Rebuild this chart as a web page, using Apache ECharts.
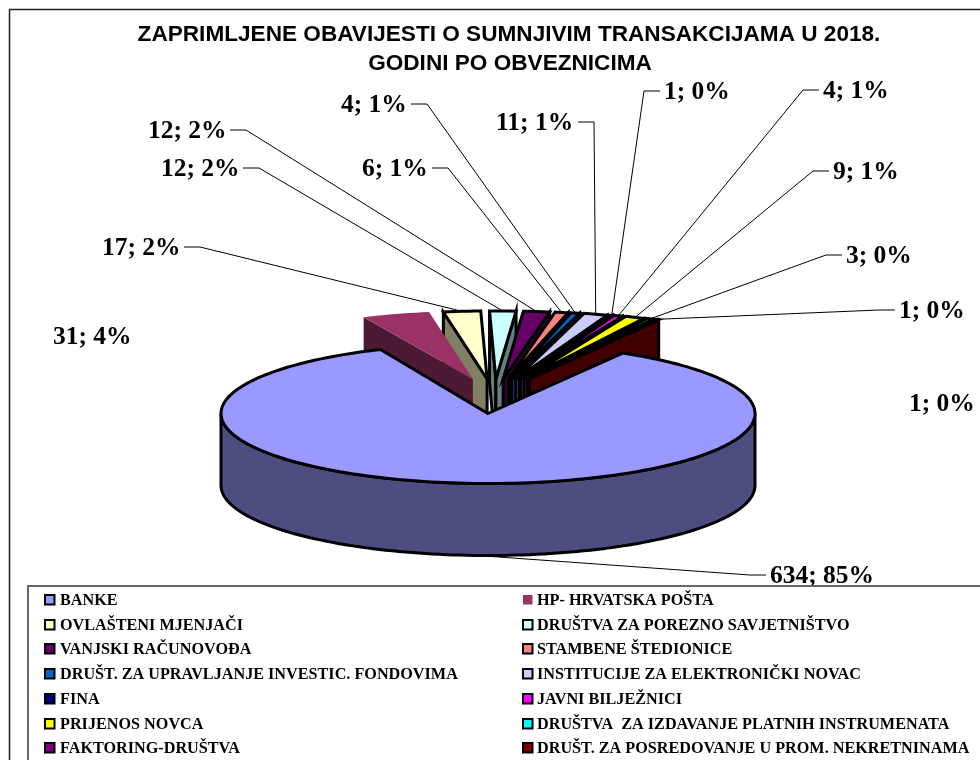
<!DOCTYPE html>
<html><head><meta charset="utf-8">
<script src="https://cdn.jsdelivr.net/npm/echarts@6/dist/echarts.min.js"></script>
<style>html,body{margin:0;padding:0;background:#fff}#c{width:980px;height:760px}</style>
</head><body><div id="c"></div>
<script>
const categories = ["BANKE","HP- HRVATSKA POŠTA","OVLAŠTENI MJENJAČI","DRUŠTVA ZA POREZNO SAVJETNIŠTVO","VANJSKI RAČUNOVOĐA","STAMBENE ŠTEDIONICE","DRUŠT. ZA UPRAVLJANJE INVESTIC. FONDOVIMA","INSTITUCIJE ZA ELEKTRONIČKI NOVAC","FINA","JAVNI BILJEŽNICI","PRIJENOS NOVCA","DRUŠTVA  ZA IZDAVANJE PLATNIH INSTRUMENATA","FAKTORING-DRUŠTVA","DRUŠT. ZA POSREDOVANJE U PROM. NEKRETNINAMA"];
const values = [634,31,17,12,12,6,4,11,1,4,9,3,1,1];
const topColors = ["#9999ff","#993366","#ffffcc","#ccffff","#660066","#ff8080","#0066cc","#ccccff","#000080","#ff00ff","#ffff00","#00ffff","#800080","#800000"];
const wallColors = ["#4d4d80","#4d1a33","#808066","#668080","#330033","#804040","#003366","#666680","#000040","#800080","#808000","#008080","#400040","#400000"];
// label box: left x, centre y, and leader side (-1 leader leaves the left, 1 the right, 0 none)
const labelLayout = [[770,575,-1],[53,336,0],[102,247,1],[161,168,1],[148,130,1],[362,168,1],[341,104,1],[496,122,1],[664,91,-1],[823,90,-1],[833,171,-1],[846,255,-1],[899,310,-1],[909,403,0]];
const labelWidths = {two:77, one:65, big:103};
const START = 29.5, MAIN_TURN = 0.8, RX = 267, RY = 70, RX_OUT = 263, RY_OUT = 68, DEPTH = 72, MAIN = [488,413.5];
const total = values.reduce((a,b)=>a+b,0);
const spans = []; { let a = START; values.forEach(v=>{ const s = v/total*360; spans.push([a,a+s]); a += s; }); }
const rad = d=>d*Math.PI/180;
const pt = (c,a,dy,ry,rx)=>[c[0]+(rx||RX)*Math.sin(rad(a)), c[1]-(ry||RY)*Math.cos(rad(a))+(dy||0)];
const centreOf = i=>{ if(i===0) return MAIN; const m=(spans[i][0]+spans[i][1])/2; return [494+72*Math.sin(rad(m)),379]; };
const sideDist = i=>{ const m=((spans[i][0]+spans[i][1])/2)%360; return Math.min(m,360-m); };
function arc(c,a0,a1,dy,ry,rx){ const out=[]; const n=Math.max(2,Math.ceil(Math.abs(a1-a0)/1.5)); for(let k=0;k<=n;k++) out.push(pt(c,a0+(a1-a0)*k/n,dy,ry,rx)); return out; }
function renderItem(params, api){
  const i = params.dataIndex; api.value(0);
  const [a0,a1] = spans[i], c = centreOf(i), kids = [];
  const line = i===1 ? {stroke:null} : {stroke:"#000",lineWidth:3,lineJoin:"miter"};
  if(i===0){
    const z=1000;
    const front = arc(c,90,270);
    kids.push({type:"polygon",z2:z,shape:{points:front.concat(arc(c,270,90,DEPTH))},style:{fill:wallColors[0],...line}});
    kids.push({type:"polygon",z2:z+1,shape:{points:[c].concat(arc(c,a0+MAIN_TURN,a1+MAIN_TURN))},style:{fill:topColors[0],...line}});
  } else {
    const order = values.map((_,k)=>k).slice(1).sort((p,q)=>sideDist(p)-sideDist(q)).indexOf(i);
    const z = 10+order*5;
    const wall = a=>{ const o=pt(c,a,0,RY_OUT,RX_OUT); return [c,o,[o[0],o[1]+DEPTH],[c[0],c[1]+DEPTH]]; };
    const m = a=>a%360;
    if(Math.sin(rad(m(a0)))<0) kids.push({type:"polygon",z2:z,shape:{points:wall(a0)},style:{fill:wallColors[i],...line}});
    if(Math.sin(rad(m(a1)))>0) kids.push({type:"polygon",z2:z+1,shape:{points:wall(a1)},style:{fill:wallColors[i],...line}});
    kids.push({type:"polygon",z2:z+2,shape:{points:[c].concat(arc(c,a0,a1,0,RY_OUT,RX_OUT))},style:{fill:topColors[i],...line}});
  }
  // data label with leader
  const L = labelLayout[i], pct = Math.round(values[i]/total*100);
  const txt = values[i]+"; "+pct+"%";
  kids.push({type:"text",z2:2000,style:{text:txt,x:L[0],y:L[1]+1,fill:"#000",font:"bold 25.5px 'Liberation Serif'",textVerticalAlign:"middle"}});
  if(L[2]!==0){
    const mid=(a0+a1)/2, w = i===0?labelWidths.big:(values[i]>=10?labelWidths.two:labelWidths.one);
    const anchor = i===0 ? pt(c,mid,DEPTH) : pt(c,mid,0,RY_OUT,RX_OUT);
    const xs = L[2]>0 ? L[0]+w+5 : L[0]-4, xe = L[2]>0 ? xs+16 : xs-16;
    kids.push({type:"polyline",z2:900,shape:{points:[[xs,L[1]],[xe,L[1]],anchor]},style:{stroke:"#000",lineWidth:1,fill:null}});
  }
  return {type:"group",children:kids};
}
const rows = [600,625,649,674,699,724,748];
const legend = [{type:"rect",shape:{x:28,y:586,width:980,height:200},style:{fill:"#fff",stroke:"#666",lineWidth:2},z:3}];
categories.forEach((name,i)=>{
  const col=i%2, y=rows[Math.floor(i/2)], mx=col?522:44, tx=col?537:60;
  legend.push({type:"rect",z:4,shape:{x:mx+1,y:y-5,width:9.5,height:9.5},style:{fill:topColors[i],stroke:i===1?null:"#000",lineWidth:2}});
  legend.push({type:"text",z:4,style:{text:name,x:tx,y:y+1,fill:"#000",font:"bold 16.2px 'Liberation Serif'",textVerticalAlign:"middle"}});
});
const titleStyle = {fontFamily:"Liberation Sans",fontWeight:"bold",fontSize:22.6,color:"#000"};
const option = {
  animation:false, backgroundColor:"#fff",
  title:[
    {text:"ZAPRIMLJENE OBAVIJESTI O SUMNJIVIM TRANSAKCIJAMA U 2018.",left:504,top:30,textAlign:"center",textVerticalAlign:"middle",textStyle:titleStyle},
    {text:"GODINI PO OBVEZNICIMA",left:505,top:59,textAlign:"center",textVerticalAlign:"middle",textStyle:titleStyle}
  ],
  graphic:{elements:[{type:"polyline",z:0,shape:{points:[[9.5,770],[9.5,9.5],[990,9.5]]},style:{stroke:"#222",lineWidth:1.5,fill:null}}].concat(legend)},
  series:[{type:"custom",coordinateSystem:"none",renderItem,clip:false,silent:true,z:2,
    data:categories.map((n,i)=>({name:n,value:[values[i]]}))}]
};
const chart=echarts.init(document.getElementById("c"),null,{renderer:"canvas"});
chart.setOption(option);
</script></body></html>
